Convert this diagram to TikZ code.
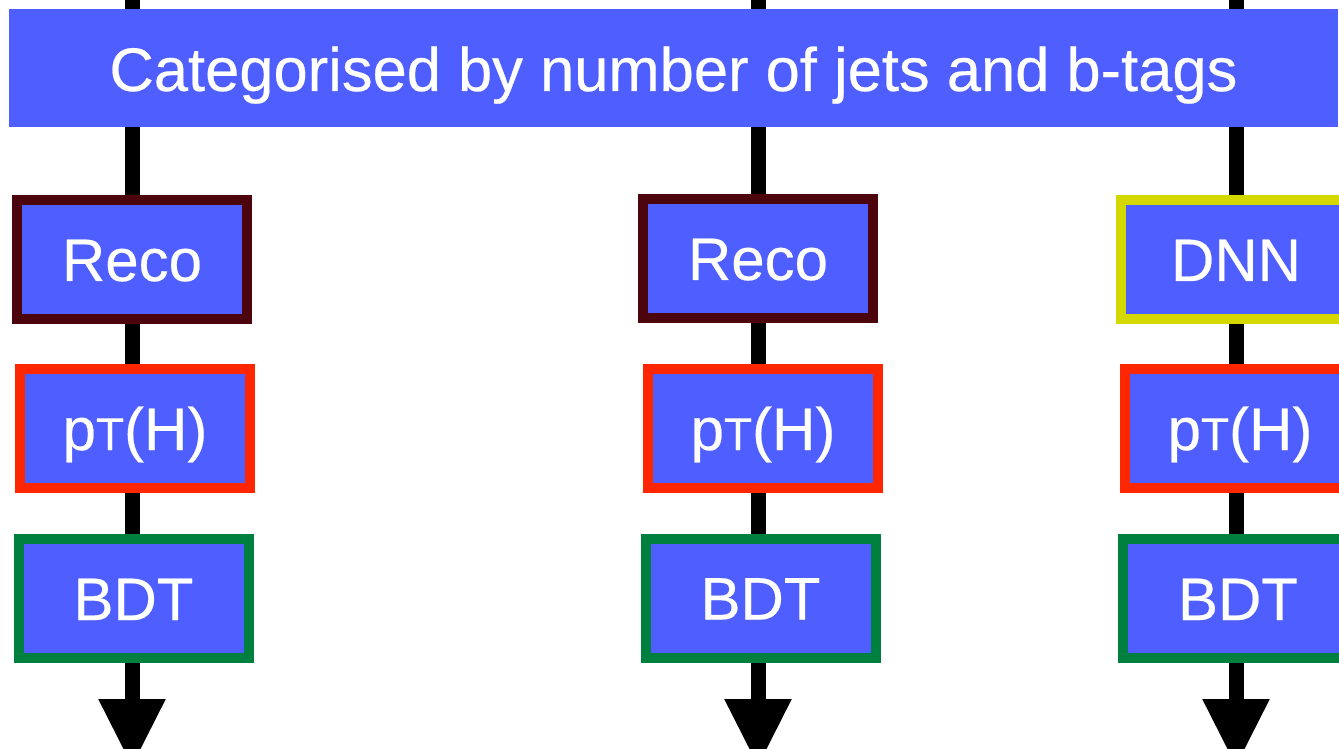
\documentclass[tikz,border=0pt]{standalone}
\usepackage{fontspec}
\setmainfont{Liberation Sans}[FakeBold=0.35]
\newfontfamily\heavy{Liberation Sans}[FakeBold=0.35]
\usetikzlibrary{arrows.meta}
\pgfdeclarelayer{background}
\pgfsetlayers{background,main}
\definecolor{boxfill}{RGB}{79,94,255}
\definecolor{recoc}{RGB}{76,5,12}
\definecolor{ptc}{RGB}{255,38,0}
\definecolor{bdtc}{RGB}{0,128,62}
\definecolor{dnnc}{RGB}{212,216,0}
\newcommand{\ptH}{p{\fontsize{46}{50}\selectfont T}(H)}
\begin{document}
\begin{tikzpicture}[x=1pt,y=1pt,
  txt/.style={text=white,font=\heavy\fontsize{60}{72}\selectfont,inner sep=0pt,text height=43pt,text depth=0pt},
  stage/.style={txt,fill=boxfill,line width=10pt,minimum width=230pt,minimum height=119pt},
  reco/.style={stage,draw=recoc},
  ptbox/.style={stage,draw=ptc},
  bdt/.style={stage,draw=bdtc},
  dnn/.style={stage,draw=dnnc},
  conn/.style={line width=15pt,black},
  arr/.style={conn,-{Triangle[width=63pt,length=68pt]}}
]
\useasboundingbox (0,0) rectangle (1339,748);
\clip (0,0) rectangle (1339,748);
% banner
\node[txt,font=\heavy\fontsize{61.5}{72}\selectfont,fill=boxfill,minimum width=1329pt,minimum height=118pt,text height=46pt] (banner) at (673.5,680) {Categorised by number of jets and b-tags};
% left column
\node[reco] (recoL) at (132,488.5) {Reco};
\node[ptbox] (ptL) at (135,319.5) {\ptH};
\node[bdt] (bdtL) at (133.5,149.5) {BDT};
% middle column
\node[reco] (recoM) at (758,489.5) {Reco};
\node[ptbox] (ptM) at (763,319.5) {\ptH};
\node[bdt] (bdtM) at (760.5,150) {BDT};
% right column
\node[dnn] (dnnR) at (1236,488.5) {DNN};
\node[ptbox] (ptR) at (1240,319.5) {\ptH};
\node[bdt] (bdtR) at (1238,149.5) {BDT};
% coordinates
\coordinate (topL) at (132,760);
\coordinate (topM) at (758,760);
\coordinate (topR) at (1236,760);
\coordinate (endL) at (132,-19);
\coordinate (endM) at (758,-19);
\coordinate (endR) at (1236,-19);
\begin{pgfonlayer}{background}
\draw[conn] (topL) -- (topL|-banner) -- (topL|-recoL) -- (topL|-ptL) -- (topL|-bdtL);
\draw[conn] (topM) -- (topM|-banner) -- (topM|-recoM) -- (topM|-ptM) -- (topM|-bdtM);
\draw[conn] (topR) -- (topR|-banner) -- (topR|-dnnR) -- (topR|-ptR) -- (topR|-bdtR);
\draw[arr] (topL|-bdtL) -- (endL);
\draw[arr] (topM|-bdtM) -- (endM);
\draw[arr] (topR|-bdtR) -- (endR);
\end{pgfonlayer}
\end{tikzpicture}
\end{document}
